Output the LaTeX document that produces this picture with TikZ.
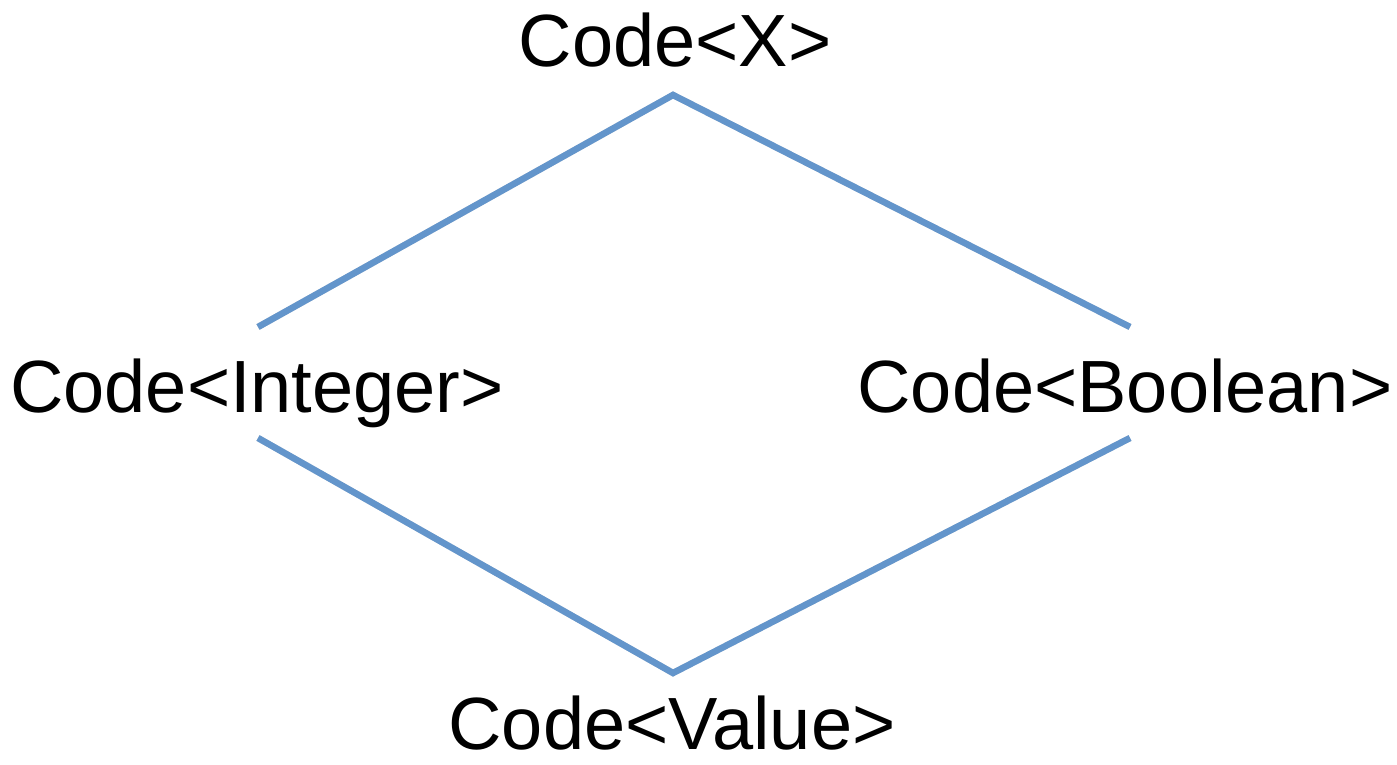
\documentclass[tikz,border=0pt]{standalone}
\usepackage{fontspec}
\setmainfont{Liberation Sans}
\definecolor{linkblue}{RGB}{99,149,203}
\begin{document}
\begin{tikzpicture}[x=1pt,y=1pt,
  lbl/.style={inner sep=0pt,anchor=base,font=\fontsize{74}{80}\selectfont,text=black},
  link/.style={draw=linkblue,line width=6.5pt,line join=miter},
  shade/.style={draw=black!25,line width=6.5pt,line join=miter,opacity=0.5}]
\useasboundingbox (0,0) rectangle (1397,765);
\node[lbl] (x) at (675,698) {Code<X>};
\node[lbl] (int) at (257,352) {Code<Integer>};
\node[lbl] (bool) at (1125,352) {Code<Boolean>};
\node[lbl] (val) at (672,15) {Code<Value>};
\coordinate (top) at (673,670);
\coordinate (bot) at (673,92);
\coordinate (intu) at (258,438);
\coordinate (intd) at (258,327);
\coordinate (boolu) at (1130,438);
\coordinate (boold) at (1130,327);
\begin{scope}[shift={(1.5,-2.5)}]
\draw[shade] (intu) -- (top) -- (boolu);
\draw[shade] (intd) -- (bot) -- (boold);
\end{scope}
\draw[link] (intu) -- (top) -- (boolu);
\draw[link] (intd) -- (bot) -- (boold);
\end{tikzpicture}
\end{document}
